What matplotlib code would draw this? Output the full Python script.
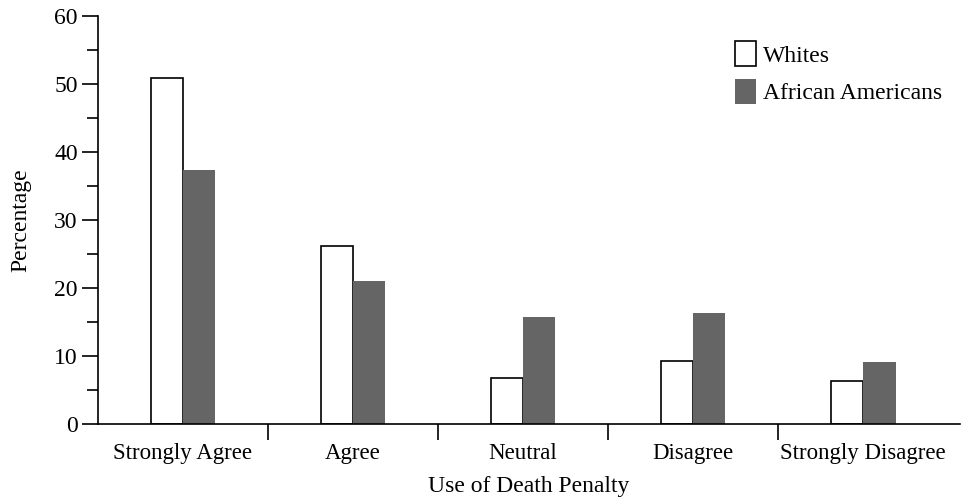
import numpy as np
import matplotlib.pyplot as plt
from matplotlib.ticker import MultipleLocator

categories = ["Strongly Agree", "Agree", "Neutral", "Disagree", "Strongly Disagree"]
whites = [50.9, 26.2, 6.8, 9.3, 6.3]
african_americans = [37.4, 21.0, 15.8, 16.3, 9.1]

plt.rcParams['font.family'] = ['Liberation Serif', 'DejaVu Serif']

fig = plt.figure(figsize=(9.68, 4.98), dpi=100)
ax = fig.add_axes([0.101, 0.1486, 0.891, 0.8193])

x = np.arange(len(categories))
w = 0.19
ax.bar(x - w/2, whites, w, color="white", edgecolor="black", linewidth=1.2,
       label="Whites")
ax.bar(x + w/2, african_americans, w, color="#656565", edgecolor="none",
       label="African Americans")

ax.set_xlim(-0.5, 4.57)
ax.set_ylim(0, 60)
ax.spines["top"].set_visible(False)
ax.spines["right"].set_visible(False)
for s in ["left", "bottom"]:
    ax.spines[s].set_linewidth(1.2)

ax.yaxis.set_major_locator(MultipleLocator(10))
ax.yaxis.set_minor_locator(MultipleLocator(5))
ax.tick_params(axis="y", which="major", length=11.5, width=1.2, labelsize=17, pad=3)
ax.tick_params(axis="y", which="minor", length=8, width=1.2)

# category labels between boundary ticks
ax.set_xticks(x[:-1] + 0.5)
ax.set_xticklabels([])
ax.set_xticks(x, minor=True)
ax.set_xticklabels(categories, minor=True, fontsize=16.5)
ax.tick_params(axis="x", which="major", length=11.5, width=1.2)
ax.tick_params(axis="x", which="minor", length=0, pad=14)

ax.set_ylabel("Percentage", fontsize=17, labelpad=16)
ax.set_xlabel("Use of Death Penalty", fontsize=17, labelpad=8)

ax.legend(loc="upper left", bbox_to_anchor=(0.750, 0.936), bbox_transform=fig.transFigure,
          frameon=False, fontsize=17, handlelength=0.85, handleheight=1.25,
          handletextpad=0.3, labelspacing=0.5, borderaxespad=0)

fig.savefig("out.png", dpi=100)
